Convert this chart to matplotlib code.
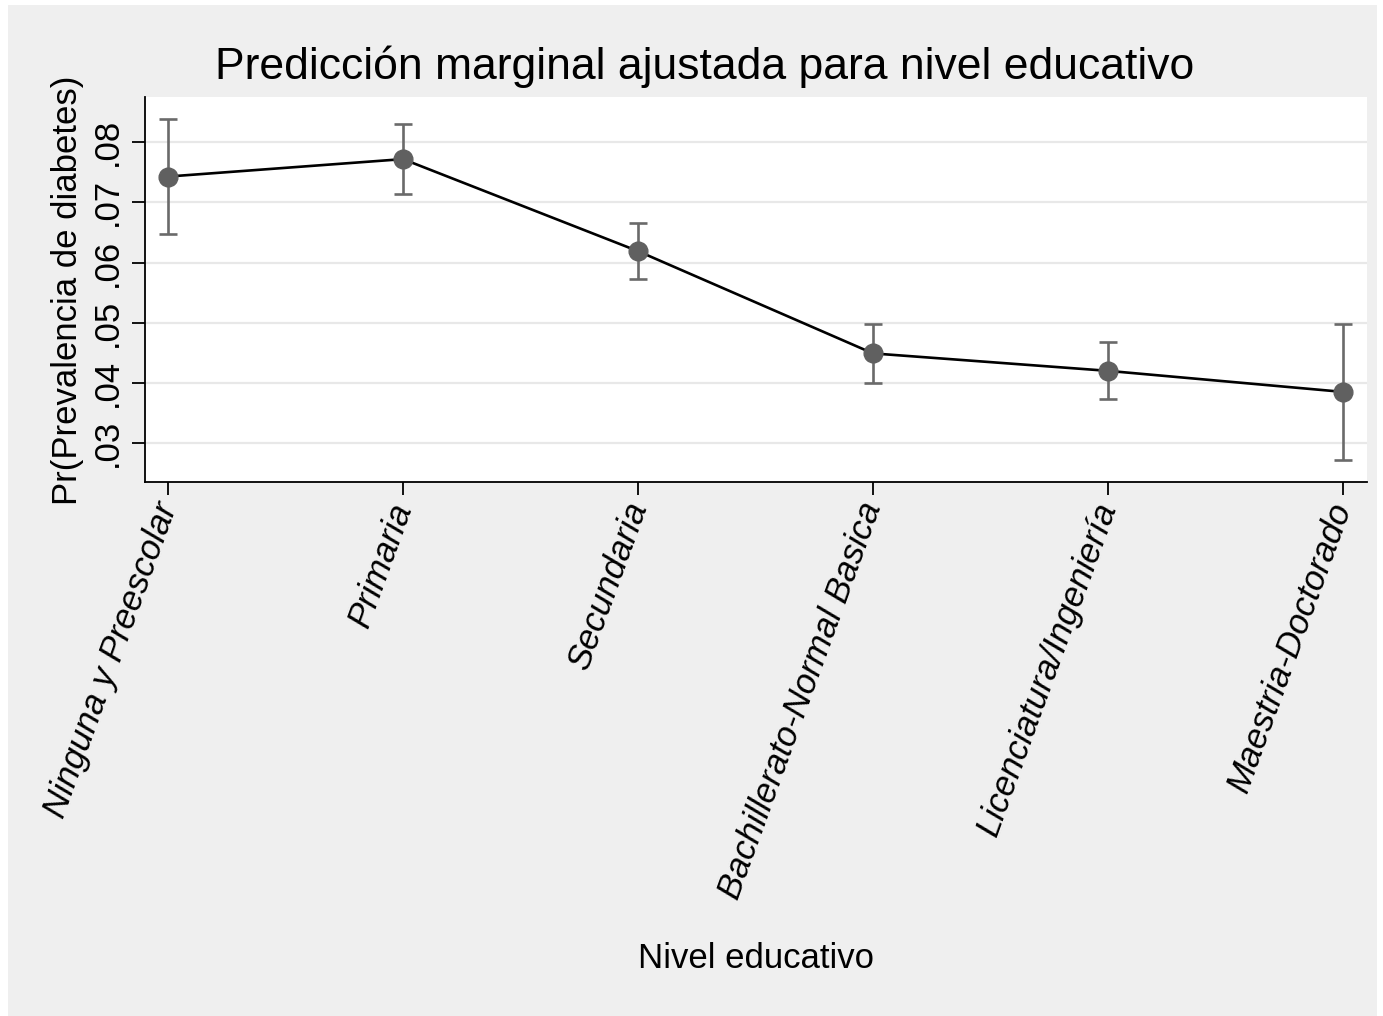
import matplotlib
matplotlib.use("Agg")
import matplotlib.pyplot as plt
from matplotlib.patches import Rectangle

plt.rcParams['font.family'] = ['Liberation Sans', 'DejaVu Sans']

# Adjusted marginal predictions by education level (with 95% CI)
categories = ["Ninguna y Preescolar", "Primaria", "Secundaria",
              "Bachillerato-Normal Basica", "Licenciatura/Ingeniería",
              "Maestria-Doctorado"]
margins = [0.0743, 0.0772, 0.0619, 0.0449, 0.0420, 0.0385]
ci_low = [0.0648, 0.0714, 0.0572, 0.0400, 0.0373, 0.0272]
ci_high = [0.0838, 0.0831, 0.0666, 0.0498, 0.0468, 0.0498]
y_ticks = [0.03, 0.04, 0.05, 0.06, 0.07, 0.08]
y_tick_labels = [".03", ".04", ".05", ".06", ".07", ".08"]

W, H = 1383, 1016
fig = plt.figure(figsize=(W / 100, H / 100), dpi=100, facecolor="white")

# graph region background
fig.patches.append(Rectangle((8 / W, 0), (1377 - 8) / W, (H - 5) / H,
                             transform=fig.transFigure, facecolor="#efefef",
                             edgecolor="none", zorder=-10))

ax = fig.add_axes([145 / W, 1 - 482 / H, (1367 - 145) / W, (482 - 97) / H])
ax.set_zorder(1)
ax.set_facecolor("white")

x = list(range(1, len(categories) + 1))
yerr = [[m - lo for m, lo in zip(margins, ci_low)],
        [hi - m for m, hi in zip(margins, ci_high)]]

ax.plot(x, margins, color="black", lw=1.9, zorder=3)
ax.errorbar(x, margins, yerr=yerr, fmt="none", ecolor="#6a6a6a",
            elinewidth=1.9, capsize=6.5, capthick=1.9, zorder=2)
ax.plot(x, margins, "o", color="#606060", markersize=13.5, zorder=4)

ax.set_xlim(1 - 23 / 235, 6 + 24 / 235)
ax.set_ylim(0.03 - 39 / 6020, 0.08 + 45.3 / 6020)

ax.set_yticks(y_ticks)
ax.set_yticklabels(y_tick_labels, rotation=90, va="center", fontsize=25)
ax.set_xticks(x)
ax.set_xticklabels(categories, rotation=70, ha="right", va="center",
                   rotation_mode="anchor", fontsize=25, style="italic")

ax.grid(axis="y", color="#e8e8e8", lw=1.6, zorder=0)
ax.set_axisbelow(True)
for s in ["top", "right"]:
    ax.spines[s].set_visible(False)
for s in ["left", "bottom"]:
    ax.spines[s].set_linewidth(1.3)
ax.tick_params(axis="both", length=9.5, width=1.3, pad=6)

fig.text(705 / W, 1 - 67 / H, "Predicción marginal ajustada para nivel educativo",
         ha="center", va="center", fontsize=32)
fig.text(756 / W, 1 - 958 / H, "Nivel educativo", ha="center", va="center",
         fontsize=25)
fig.text(68 / W, 1 - 290 / H, "Pr(Prevalencia de diabetes)", rotation=90,
         ha="center", va="center", fontsize=25)

fig.savefig("out.png", dpi=100, facecolor="white")
